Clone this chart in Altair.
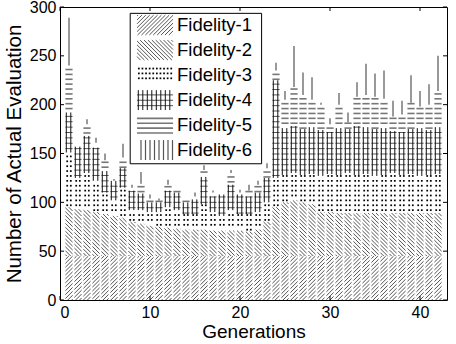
import altair as alt
import pandas as pd

# Evaluations per generation, split by fidelity level (stacked bottom to top)
generations = list(range(1, 43))
fidelity_names = ["Fidelity-1", "Fidelity-2", "Fidelity-3",
                  "Fidelity-4", "Fidelity-5", "Fidelity-6"]

fidelity_1 = [45] * 42
fidelity_2 = [50, 48, 47, 45, 43, 41, 39, 35, 33, 31, 30, 29, 28, 27, 27, 27, 26, 26, 26, 26, 25, 27,
              35, 50, 55, 57, 55, 53, 45, 45, 44, 44, 44, 44, 44, 44, 44, 44, 44, 44, 44, 44]
fidelity_3 = [56, 32, 38, 32, 22, 16, 31, 12, 14, 14, 15, 21, 19, 16, 16, 26, 19, 15, 21, 17, 18, 18,
              20, 30, 28, 28, 28, 31, 37, 39, 39, 41, 39, 40, 38, 39, 41, 39, 40, 38, 39, 40]
fidelity_4 = [41, 32, 38, 34, 22, 20, 20, 20, 17, 10, 10, 17, 18, 12, 15, 28, 16, 22, 26, 20, 18, 20,
              25, 100, 48, 48, 47, 48, 47, 43, 48, 45, 50, 48, 48, 48, 43, 44, 46, 49, 46, 48]
fidelity_5 = [48, 0, 12, 5, 11, 0, 11, 3, 10, 4, 2, 6, 2, 4, 3, 7, 4, 2, 12, 2, 6, 8,
              10, 10, 29, 40, 35, 28, 26, 8, 24, 7, 30, 33, 33, 30, 15, 18, 27, 22, 26, 37]
fidelity_6 = [49, 0, 5, 5, 7, 2, 14, 3, 12, 4, 2, 5, 0, 0, 4, 5, 2, 0, 3, 3, 6, 4,
              5, 8, 9, 42, 23, 23, 2, 6, 12, 10, 15, 32, 24, 29, 16, 14, 28, 16, 21, 36]

x_ticks = [0, 10, 20, 30, 40]
y_ticks = [0, 50, 100, 150, 200, 250, 300]

series = [fidelity_1, fidelity_2, fidelity_3, fidelity_4, fidelity_5, fidelity_6]

# ---- layout constants ----
FONT = "Liberation Sans"
X_MAX, Y_MAX = 43, 300
PLOT_W, PLOT_H = 387, 293
BAR_HALF = 0.4
SLOPE = 9.2          # data-unit slope giving ~45 degree hatching
TICK_X = 4 / (PLOT_W / X_MAX)
TICK_Y = 4 / (PLOT_H / Y_MAX)

LEG_X0, LEG_X1 = 7.8, 22.4
LEG_Y0, LEG_Y1 = 139.5, 293.5
SW_XC, SW_HW = 10.56, 2.0
SW_TOP, SW_STEP, SW_HALF = 281.5, 25.6, 10.2
LABEL_X = 13.0

XS = alt.Scale(domain=[0, X_MAX], nice=False, zero=False)
YS = alt.Scale(domain=[0, Y_MAX], nice=False, zero=False)

# one shared axis definition per channel, used by every layer
AX_X = alt.Axis(values=x_ticks, ticks=False, domain=False, grid=False,
                labelFontSize=16, labelPadding=4, labelFont=FONT, labelColor="black",
                title="Generations", titleFont=FONT, titleFontSize=19,
                titleFontWeight="normal", titleColor="black", titlePadding=2)
AX_Y = alt.Axis(values=y_ticks, ticks=False, domain=False, grid=False,
                labelFontSize=16, labelPadding=4, labelFont=FONT, labelColor="black",
                title="Number of Actual Evaluation", titleFont=FONT, titleFontSize=20.5,
                titleFontWeight="normal", titleColor="black", titlePadding=5)


def X(field):
    return alt.X(field, scale=XS, axis=AX_X)


def Y(field):
    return alt.Y(field, scale=YS, axis=AX_Y)


# stacked segments of the bars
bar_rows = []
for i, g in enumerate(generations):
    base = 0
    for name, vals in zip(fidelity_names, series):
        v = vals[i]
        if v > 0:
            bar_rows.append(dict(xc=g, hw=BAR_HALF, y0=base, y1=base + v, fid=name))
        base += v
bars = pd.DataFrame(bar_rows)

# legend swatches, filled with the same hatching as the bars
swatches = pd.DataFrame([
    dict(xc=SW_XC, hw=SW_HW, y0=SW_TOP - j * SW_STEP - SW_HALF,
         y1=SW_TOP - j * SW_STEP + SW_HALF, fid=name)
    for j, name in enumerate(fidelity_names)
])


def prepared(data, name):
    return (alt.Chart(data)
            .transform_filter(alt.datum.fid == name)
            .transform_calculate(xa="datum.xc - datum.hw")
            .transform_calculate(xb="datum.xc + datum.hw"))


def diag(data, name, rising, step, color, width):
    k = SLOPE
    ch = prepared(data, name)
    if rising:
        ch = (ch.transform_calculate(
                cs=f"sequence(ceil((datum.y0 - {k}*datum.xb)/{step})*{step}, datum.y1 - {k}*datum.xa, {step})")
              .transform_flatten(["cs"], as_=["c"])
              .transform_calculate(px0=f"max(datum.xa, (datum.y0 - datum.c)/{k})")
              .transform_calculate(px1=f"min(datum.xb, (datum.y1 - datum.c)/{k})")
              .transform_filter("datum.px1 > datum.px0 + 0.000001")
              .transform_calculate(py0=f"datum.c + {k}*datum.px0")
              .transform_calculate(py1=f"datum.c + {k}*datum.px1"))
    else:
        ch = (ch.transform_calculate(
                cs=f"sequence(ceil((datum.y0 + {k}*datum.xa)/{step})*{step}, datum.y1 + {k}*datum.xb, {step})")
              .transform_flatten(["cs"], as_=["c"])
              .transform_calculate(px0=f"max(datum.xa, (datum.c - datum.y1)/{k})")
              .transform_calculate(px1=f"min(datum.xb, (datum.c - datum.y0)/{k})")
              .transform_filter("datum.px1 > datum.px0 + 0.000001")
              .transform_calculate(py0=f"datum.c - {k}*datum.px0")
              .transform_calculate(py1=f"datum.c - {k}*datum.px1"))
    return ch.mark_rule(color=color, strokeWidth=width).encode(
        x=X("px0:Q"), x2="px1:Q", y=Y("py0:Q"), y2="py1:Q")


def hlines(data, name, step, color, width):
    return (prepared(data, name)
            .transform_calculate(ys=f"sequence(ceil(datum.y0/{step})*{step} + 1, datum.y1, {step})")
            .transform_flatten(["ys"], as_=["hy"])
            .mark_rule(color=color, strokeWidth=width)
            .encode(x=X("xa:Q"), x2="xb:Q", y=Y("hy:Q")))


def vlines(data, name, step, color, width, offset=0.0):
    expr = f"sequence(ceil((datum.xa - {offset})/{step})*{step} + {offset}, datum.xb, {step})"
    return (prepared(data, name)
            .transform_calculate(xs=expr)
            .transform_flatten(["xs"], as_=["hx"])
            .mark_rule(color=color, strokeWidth=width)
            .encode(x=X("hx:Q"), y=Y("y0:Q"), y2="y1:Q"))


def dots(data, name, start, xstep, ystep):
    return (prepared(data, name)
            .transform_calculate(xs=f"sequence(datum.xa + {start}, datum.xb, {xstep})")
            .transform_flatten(["xs"], as_=["hx"])
            .transform_calculate(ys=f"sequence(ceil(datum.y0/{ystep})*{ystep} + 2, datum.y1, {ystep})")
            .transform_flatten(["ys"], as_=["hy"])
            .mark_square(color="black", size=3, opacity=1)
            .encode(x=X("hx:Q"), y=Y("hy:Q")))


def hatch_layers(data):
    return [
        diag(data, "Fidelity-1", True, 4, "#555555", 1),
        diag(data, "Fidelity-2", False, 4, "#555555", 1),
        dots(data, "Fidelity-3", 0.2, 0.4, 5),
        hlines(data, "Fidelity-4", 5.5, "#555555", 1),
        vlines(data, "Fidelity-4", 0.5, "#111111", 1, offset=0.2),
        hlines(data, "Fidelity-5", 5, "#777777", 1.6),
        vlines(data, "Fidelity-6", 0.5, "#555555", 1.2),
    ]


# legend frame and labels
legend_box = alt.Chart(pd.DataFrame({"x0": [LEG_X0], "x1": [LEG_X1],
                                     "y0": [LEG_Y0], "y1": [LEG_Y1]})).mark_rect(
    fill="white", stroke="black", strokeWidth=1).encode(
    x=X("x0:Q"), x2="x1:Q", y=Y("y0:Q"), y2="y1:Q")

legend_text = alt.Chart(pd.DataFrame({
    "label": fidelity_names,
    "lx": [LABEL_X] * len(fidelity_names),
    "ly": [SW_TOP - j * SW_STEP for j in range(len(fidelity_names))],
})).mark_text(align="left", baseline="middle", font=FONT, fontSize=18.5, color="black").encode(
    x=X("lx:Q"), y=Y("ly:Q"), text="label:N")

# inward tick marks on all four sides
ydf = pd.DataFrame({"v": y_ticks})
xdf = pd.DataFrame({"v": x_ticks})

left_ticks = (alt.Chart(ydf)
              .transform_calculate(a="0", b=f"{TICK_X}")
              .mark_rule(color="black", strokeWidth=1)
              .encode(x=X("a:Q"), x2="b:Q", y=Y("v:Q")))
right_ticks = (alt.Chart(ydf)
               .transform_calculate(a=f"{X_MAX - TICK_X}", b=f"{X_MAX}")
               .mark_rule(color="black", strokeWidth=1)
               .encode(x=X("a:Q"), x2="b:Q", y=Y("v:Q")))
bottom_ticks = (alt.Chart(xdf)
                .transform_calculate(a="0", b=f"{TICK_Y}")
                .mark_rule(color="black", strokeWidth=1)
                .encode(x=X("v:Q"), y=Y("a:Q"), y2="b:Q"))
top_ticks = (alt.Chart(xdf)
             .transform_calculate(a=f"{Y_MAX - TICK_Y}", b=f"{Y_MAX}")
             .mark_rule(color="black", strokeWidth=1)
             .encode(x=X("v:Q"), y=Y("a:Q"), y2="b:Q"))

layers = (hatch_layers(bars) + [legend_box] + hatch_layers(swatches)
          + [legend_text, left_ticks, right_ticks, bottom_ticks, top_ticks])

chart = alt.layer(*layers).properties(
    width=PLOT_W, height=PLOT_H,
    autosize=alt.AutoSizeParams(type="none"),
    padding={"left": 60, "top": 7, "right": 9, "bottom": 44},
    background="white",
).configure_view(stroke="black", strokeWidth=1)

chart.save("out.html", embed_options={"renderer": "svg", "actions": False})
